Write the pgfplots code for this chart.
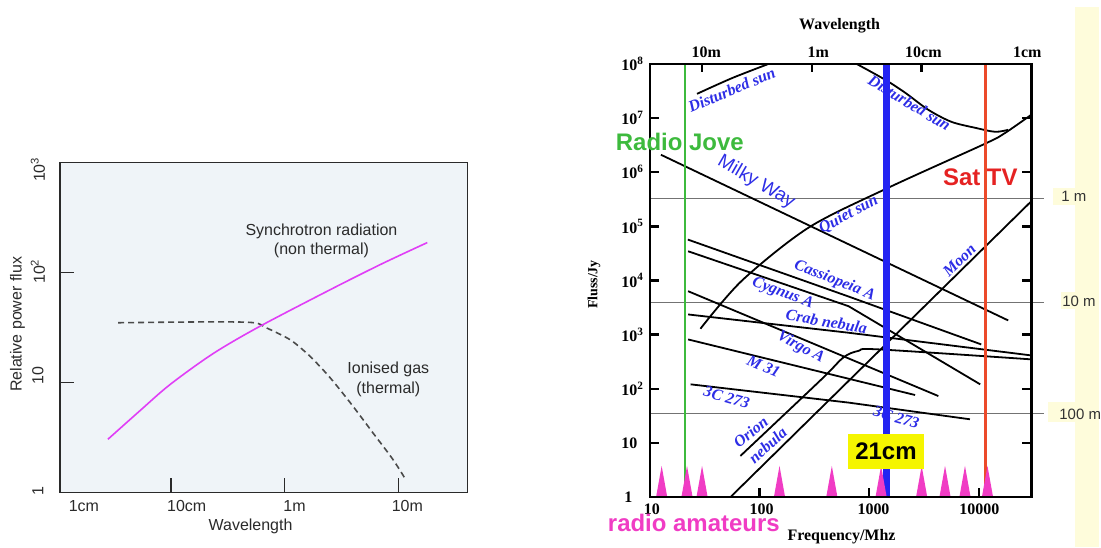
\documentclass[border=0pt]{standalone}
\usepackage{pgfplots}
\pgfplotsset{compat=1.18}
\usepackage{fontspec}
\setmainfont{Liberation Serif}
\newfontfamily\arial{Liberation Sans}
\definecolor{lbg}{HTML}{EFF4F8}
\definecolor{synch}{HTML}{E03EF6}
\definecolor{ldash}{HTML}{4A4A4A}
\definecolor{ltext}{HTML}{2A2A2A}
\definecolor{lbl}{HTML}{2D2DE6}
\definecolor{jove}{HTML}{3DBA3D}
\definecolor{satred}{HTML}{EC4A2A}
\definecolor{sattext}{HTML}{E52222}
\definecolor{blueline}{HTML}{2424F2}
\definecolor{amat}{HTML}{F03CC4}
\definecolor{band}{HTML}{FEFCDB}
\definecolor{box21}{HTML}{F5F500}
\newcommand{\fs}[1]{\fontsize{#1}{#1}\selectfont}
\tikzset{lab/.style={font=\fs{16}\bfseries\itshape, text=lbl, inner sep=0pt}}

\begin{document}
\begin{tikzpicture}
\begin{scope}[x=1pt,y=1pt]
\path[use as bounding box] (0,0) rectangle (1101,548);
\fill[band] (1077,0) rectangle (1101,541);
\fill[band] (1055,343) rectangle (1077,360);
\fill[band] (1063,238) rectangle (1077,255);
\fill[band] (1050,125) rectangle (1077,145);
\end{scope}

% ---------------- Left panel ----------------
\begin{axis}[at={(60pt,55pt)}, anchor=south west, scale only axis, width=408pt, height=330pt,
  xmode=log, ymode=log, xmin=1.06, xmax=4027, ymin=1, ymax=1000,
  axis background/.style={fill=lbg},
  axis line style={draw=ltext, line width=1.3pt},
  xtick={10,100,1000}, ytick={10,100}, xticklabels={}, yticklabels={},
  xminorticks=false, yminorticks=false,
  xtick pos=left, ytick pos=left, tick align=inside, major tick length=14pt,
  tick style={draw=ltext, line width=1.5pt}, clip=false, axis on top]
\addplot[ldash, line width=1.6pt, dash pattern=on 6pt off 4pt, smooth] coordinates {
 (3.45,34.9) (20,35.5) (52.7,35.0) (69.0,31.4) (110.7,24.6) (154.9,18.6) (202.6,14.1)
 (265.5,10.3) (397.6,6.09) (595,3.49) (891,2.0) (1130,1.36)};
\addplot[synch, line width=1.6pt, smooth] coordinates {
 (2.80,3.03) (5.35,5.51) (9.80,9.51) (23.4,18.2) (60.4,32.3) (263.7,71.5)
 (724,120.7) (1796,187.4)};
\end{axis}

% ---------------- Right panel ----------------
\begin{axis}[at={(651pt,50pt)}, anchor=south west, scale only axis, width=382pt, height=434pt,
  xmode=log, ymode=log, xmin=10, xmax=30000, ymin=1, ymax=1e8,
  axis line style={line width=2.6pt},
  xtick={100,1000,10000}, ytick={10,100,1000,10000,100000,1000000,10000000},
  xticklabels={}, yticklabels={}, xminorticks=false, yminorticks=false,
  xtick pos=left, ytick pos=both, tick align=inside, major tick length=9pt,
  tick style={line width=2.4pt, black}, clip=false, axis on top]
% wavelength guide lines
\addplot[black!55, line width=0.8pt] coordinates {(10,3.34e5) (39300,3.34e5)};
\addplot[black!55, line width=0.8pt] coordinates {(10,3981) (39300,3981)};
\addplot[black!55, line width=0.8pt] coordinates {(10,35.3) (39300,35.3)};
% sources
\addplot[black, line width=1.8pt, smooth] coordinates {(26.9,2.8e7) (56,5.45e7) (121,1e8)};
\addplot[black, line width=1.8pt, smooth] coordinates {(766,1e8) (1403,5.07e7) (2133,2.92e7) (3456,1.42e7) (5598,8.53e6) (9253,6.6e6) (14060,5.57e6) (18490,6.07e6)};
\addplot[black, line width=1.8pt, smooth] coordinates {(28.9,1288) (69.2,1.0e4) (280,9.48e4) (1496,5.18e5) (11350,3.35e6) (17260,5.28e6) (30000,1.15e7)};
\addplot[black, line width=1.8pt] coordinates {(12.6,2.1e6) (18500,1832)};
\addplot[black, line width=1.8pt] coordinates {(54.2,1) (30000,2.9e5)};
\addplot[black, line width=1.8pt] coordinates {(22.2,57000) (647,5070) (10500,661)};
\addplot[black, line width=1.8pt] coordinates {(22.3,34700) (647,3360) (10280,121)};
\addplot[black, line width=1.8pt] coordinates {(22.3,6350) (4266,73.6)};
\addplot[black, line width=1.8pt] coordinates {(22.3,2362) (647,1086) (30000,414)};
\addplot[black, line width=1.8pt] coordinates {(22.3,817) (2617,76.9)};
\addplot[black, line width=1.8pt] coordinates {(23.5,121) (647,55.7) (8279,27.4)};
\addplot[black, line width=1.8pt, smooth] coordinates {(66.9,5.77) (367,150) (582,381) (798,502) (1213,535) (30000,350)};
% labels
\node[lab, rotate=23] at (rel axis cs:0.2147,0.9401) {Disturbed sun};
\node[lab, rotate=-31] at (rel axis cs:0.6806,0.9101) {Disturbed sun};
\node[font=\arial\fs{19}, text=lbl, rotate=-30, inner sep=0pt] at (rel axis cs:0.2788,0.7270) {Milky Way};
\node[lab, rotate=28] at (rel axis cs:0.5209,0.6521) {Quiet sun};
\node[lab, rotate=45] at (rel axis cs:0.8115,0.5461) {Moon};
\node[lab, rotate=-22] at (rel axis cs:0.4843,0.5) {Cassiopeia A};
\node[lab, rotate=-21] at (rel axis cs:0.3482,0.4700) {Cygnus A};
\node[lab, rotate=-10] at (rel axis cs:0.4634,0.4055) {Crab nebula};
\node[lab, rotate=-29] at (rel axis cs:0.3953,0.3456) {Virgo A};
\node[lab, rotate=-24] at (rel axis cs:0.2984,0.3018) {M 31};
\node[lab, rotate=-16] at (rel axis cs:0.2016,0.2304) {3C 273};
\node[lab, rotate=-16] at (rel axis cs:0.6466,0.1843) {3C 273};
\node[lab, rotate=39] at (rel axis cs:0.2644,0.1498) {Orion};
\node[lab, rotate=42] at (rel axis cs:0.3089,0.1198) {nebula};
% frequency markers
\addplot[jove, line width=2.2pt] coordinates {(20.8,1) (20.8,1e8)};
\addplot[blueline, line width=6.5pt] coordinates {(1442,1) (1442,1e8)};
\addplot[satred, line width=2.2pt] coordinates {(11480,1) (11480,1e8)};
% radio amateur bands
\addplot[fill=amat, draw=none] coordinates {(11.38,1) (12.8,3.78) (14.40,1)};
\addplot[fill=amat, draw=none] coordinates {(19.38,1) (21.8,3.78) (24.53,1)};
\addplot[fill=amat, draw=none] coordinates {(26.58,1) (29.9,3.78) (33.64,1)};
\addplot[fill=amat, draw=none] coordinates {(135.1,1) (152,3.78) (171.0,1)};
\addplot[fill=amat, draw=none] coordinates {(405.3,1) (456,3.78) (513,1)};
\addplot[fill=amat, draw=none] coordinates {(1140,1) (1283,3.78) (1443,1)};
\addplot[fill=amat, draw=none] coordinates {(2671,1) (3005,3.78) (3381,1)};
\addplot[fill=amat, draw=none] coordinates {(4364,1) (4910,3.78) (5524,1)};
\addplot[fill=amat, draw=none] coordinates {(6635,1) (7464,3.78) (8397,1)};
\addplot[fill=amat, draw=none] coordinates {(10640,1) (11970,3.78) (13466,1)};
\node[fill=box21, minimum width=77pt, minimum height=35pt, inner sep=0pt, font=\arial\bfseries\fs{24}] at (rel axis cs:0.6191,0.1048) {21cm};
\end{axis}

% top wavelength ticks
\begin{axis}[at={(651pt,50pt)}, anchor=south west, scale only axis, width=382pt, height=434pt,
  xmode=log, ymode=log, xmin=10, xmax=30000, ymin=1, ymax=1e8,
  hide y axis, x axis line style={draw=none},
  xtick={30,300,3000}, xticklabels={}, xminorticks=false,
  xtick pos=right, tick align=inside, major tick length=8pt,
  tick style={line width=2.4pt, black}]
\end{axis}

\begin{scope}[x=1pt,y=1pt]
\begin{scope}[font=\arial\fs{16}, text=ltext]
\node[rotate=90] at (38,378) {10\textsuperscript{3}};
\node[rotate=90] at (38,276) {10\textsuperscript{2}};
\node[rotate=90] at (38,172) {10};
\node[rotate=90] at (38,56) {1};
\node at (84,41) {1cm};
\node at (187,41) {10cm};
\node at (295,41) {1m};
\node at (408,41) {10m};
\node at (251,21) {Wavelength};
\node[rotate=90] at (17.5,223) {Relative power flux};
\node at (322,316.5) {Synchrotron radiation};
\node at (322,297.5) {(non thermal)};
\node at (389,178) {Ionised gas};
\node at (389,158) {(thermal)};
\end{scope}
\begin{scope}[font=\fs{16}\bfseries]
\node[anchor=east] at (637,50) {1};
\node[anchor=east] at (642,104.25) {10};
\node[anchor=east] at (642,158.5) {10\rlap{\textsuperscript{2}}};
\node[anchor=east] at (642,212.75) {10\rlap{\textsuperscript{3}}};
\node[anchor=east] at (642,267) {10\rlap{\textsuperscript{4}}};
\node[anchor=east] at (642,321.25) {10\rlap{\textsuperscript{5}}};
\node[anchor=east] at (642,375.5) {10\rlap{\textsuperscript{6}}};
\node[anchor=east] at (642,429.75) {10\rlap{\textsuperscript{7}}};
\node[anchor=east] at (642,484) {10\rlap{\textsuperscript{8}}};
\node at (653,38) {10};
\node at (763,38) {100};
\node at (875,38) {1000};
\node at (981,38) {10000};
\node at (707.5,496) {10m};
\node at (819.7,496) {1m};
\node at (925,496) {10cm};
\node at (1029,496) {1cm};
\node at (841,522) {Wavelength};
\node at (843,10.5) {Frequency/Mhz};
\node[rotate=90, font=\fs{14}\bfseries] at (595,263) {Fluss/Jy};
\end{scope}
\node[font=\arial\bfseries\fs{24}, text=jove] at (681,405.5) {Radio Jove};
\node[font=\arial\bfseries\fs{24}, text=sattext] at (982,370.5) {Sat TV};
\node[font=\arial\bfseries\fs{24}, text=amat] at (695,24.5) {radio amateurs};
\begin{scope}[font=\arial\fs{15}, text=black!80, anchor=west, inner sep=0pt]
\node at (1063,351) {1 m};
\node at (1064,246) {10 m};
\node at (1061,133) {100 m};
\end{scope}
\end{scope}
\end{tikzpicture}
\end{document}
